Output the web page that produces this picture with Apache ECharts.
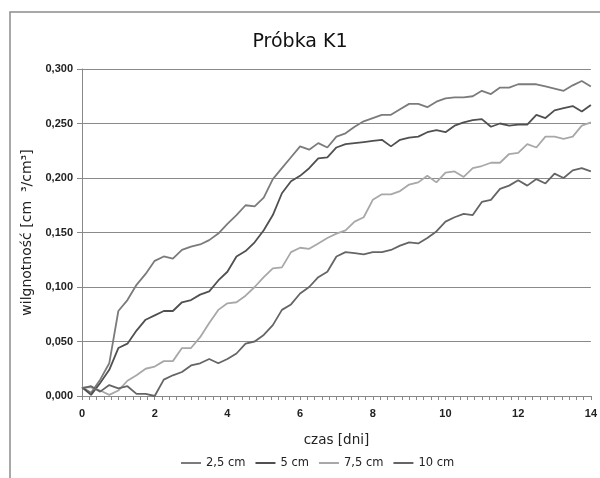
<!DOCTYPE html>
<html>
<head>
<meta charset="utf-8">
<script src="https://cdn.jsdelivr.net/npm/echarts@6/dist/echarts.min.js"></script>
<style>
  html, body { margin: 0; padding: 0; background: #fff; }
  #main { width: 600px; height: 478px; }
</style>
</head>
<body>
<div id="main"></div>
<script>
// czas [dni], co 0.25 dnia
var days = [];
for (var i = 0; i <= 56; i++) { days.push(i / 4); }

var names = ['2,5 cm', '5 cm', '7,5 cm', '10 cm'];

var w25 = [0.008, 0.003, 0.015, 0.030, 0.078, 0.088, 0.102, 0.112, 0.124, 0.128,
  0.126, 0.134, 0.137, 0.139, 0.143, 0.149, 0.158, 0.166, 0.175, 0.174,
  0.182, 0.199, 0.209, 0.219, 0.229, 0.226, 0.232, 0.228, 0.238, 0.241,
  0.247, 0.252, 0.255, 0.258, 0.258, 0.263, 0.268, 0.268, 0.265, 0.270,
  0.273, 0.274, 0.274, 0.275, 0.280, 0.277, 0.283, 0.283, 0.286, 0.286,
  0.286, 0.284, 0.282, 0.280, 0.285, 0.289, 0.284];

var w5 = [0.008, 0.001, 0.012, 0.024, 0.044, 0.048, 0.060, 0.070, 0.074, 0.078,
  0.078, 0.086, 0.088, 0.093, 0.096, 0.106, 0.114, 0.128, 0.133, 0.141,
  0.152, 0.166, 0.186, 0.197, 0.202, 0.209, 0.218, 0.219, 0.228, 0.231,
  0.232, 0.233, 0.234, 0.235, 0.229, 0.235, 0.237, 0.238, 0.242, 0.244,
  0.242, 0.248, 0.251, 0.253, 0.254, 0.247, 0.250, 0.248, 0.249, 0.249,
  0.258, 0.255, 0.262, 0.264, 0.266, 0.261, 0.267];

var w75 = [0.008, 0.008, 0.005, 0.001, 0.005, 0.014, 0.019, 0.025, 0.027, 0.032,
  0.032, 0.044, 0.044, 0.054, 0.067, 0.079, 0.085, 0.086, 0.092, 0.100,
  0.109, 0.117, 0.118, 0.132, 0.136, 0.135, 0.140, 0.145, 0.149, 0.152,
  0.160, 0.164, 0.180, 0.185, 0.185, 0.188, 0.194, 0.196, 0.202, 0.196,
  0.205, 0.206, 0.201, 0.209, 0.211, 0.214, 0.214, 0.222, 0.223, 0.231,
  0.228, 0.238, 0.238, 0.236, 0.238, 0.248, 0.251];

var w10 = [0.007, 0.009, 0.004, 0.010, 0.007, 0.009, 0.002, 0.002, 0.000, 0.015,
  0.019, 0.022, 0.028, 0.030, 0.034, 0.030, 0.034, 0.039, 0.048, 0.050,
  0.056, 0.065, 0.079, 0.084, 0.094, 0.100, 0.109, 0.114, 0.128, 0.132,
  0.131, 0.130, 0.132, 0.132, 0.134, 0.138, 0.141, 0.140, 0.145, 0.151,
  0.160, 0.164, 0.167, 0.166, 0.178, 0.180, 0.190, 0.193, 0.198, 0.193,
  0.199, 0.195, 0.204, 0.200, 0.207, 0.209, 0.206];

var colors = ['#7b7b7b', '#505050', '#a8a8a8', '#656565'];

function pairs(vals) {
  return vals.map(function (v, i) { return [days[i], v]; });
}

var myChart = echarts.init(document.getElementById('main'));

myChart.setOption({
  animation: false,
  title: {
    text: 'Próbka K1',
    left: 'center',
    top: 28,
    textStyle: { fontFamily: 'DejaVu Sans', fontSize: 19, fontWeight: 'normal', color: '#111' }
  },
  graphic: [{
    type: 'rect',
    shape: { x: 10, y: 12, width: 620, height: 500 },
    style: { fill: 'none', stroke: '#8c8c8c', lineWidth: 1.5 },
    silent: true
  }],
  legend: {
    bottom: 4,
    left: 176,
    itemWidth: 20,
    itemHeight: 2,
    itemGap: 10,
    icon: 'rect',
    textStyle: { fontFamily: 'DejaVu Sans', fontSize: 11.5, color: '#222' },
    data: names
  },
  grid: { left: 82, right: 7, top: 69, bottom: 82, containLabel: false },
  xAxis: {
    type: 'value',
    min: 0,
    max: 14,
    interval: 2,
    name: 'czas [dni]',
    nameLocation: 'middle',
    nameGap: 37,
    nameTextStyle: { fontFamily: 'DejaVu Sans', fontSize: 13.5, color: '#222' },
    axisLine: { show: true, lineStyle: { color: '#888', width: 1 } },
    axisTick: { show: true, length: 4, lineStyle: { color: '#888' } },
    minorTick: { show: true, splitNumber: 10, length: 4, lineStyle: { color: '#888' } },
    axisLabel: { fontFamily: 'Liberation Sans', fontSize: 11, fontWeight: 'bold', color: '#222', margin: 12 },
    splitLine: { show: false }
  },
  yAxis: {
    type: 'value',
    min: 0,
    max: 0.3,
    interval: 0.05,
    name: 'wilgnotność [cm  ³/cm³]',
    nameLocation: 'middle',
    nameGap: 48,
    nameRotate: 90,
    nameTextStyle: { fontFamily: 'DejaVu Sans', fontSize: 14, color: '#222' },
    axisLine: { show: true, lineStyle: { color: '#888', width: 1 } },
    axisTick: { show: true, length: 5, lineStyle: { color: '#888' } },
    axisLabel: {
      fontFamily: 'Liberation Sans', fontSize: 11, fontWeight: 'bold', color: '#222', margin: 9,
      formatter: function (v) { return v.toFixed(3).replace('.', ','); }
    },
    splitLine: { show: true, lineStyle: { color: '#8a8a8a', width: 1 } }
  },
  series: [
    { name: names[0], type: 'line', data: pairs(w25), showSymbol: false, color: colors[0], lineStyle: { width: 1.8 } },
    { name: names[1], type: 'line', data: pairs(w5), showSymbol: false, color: colors[1], lineStyle: { width: 1.8 } },
    { name: names[2], type: 'line', data: pairs(w75), showSymbol: false, color: colors[2], lineStyle: { width: 1.8 } },
    { name: names[3], type: 'line', data: pairs(w10), showSymbol: false, color: colors[3], lineStyle: { width: 1.8 } }
  ]
});
</script>
</body>
</html>
